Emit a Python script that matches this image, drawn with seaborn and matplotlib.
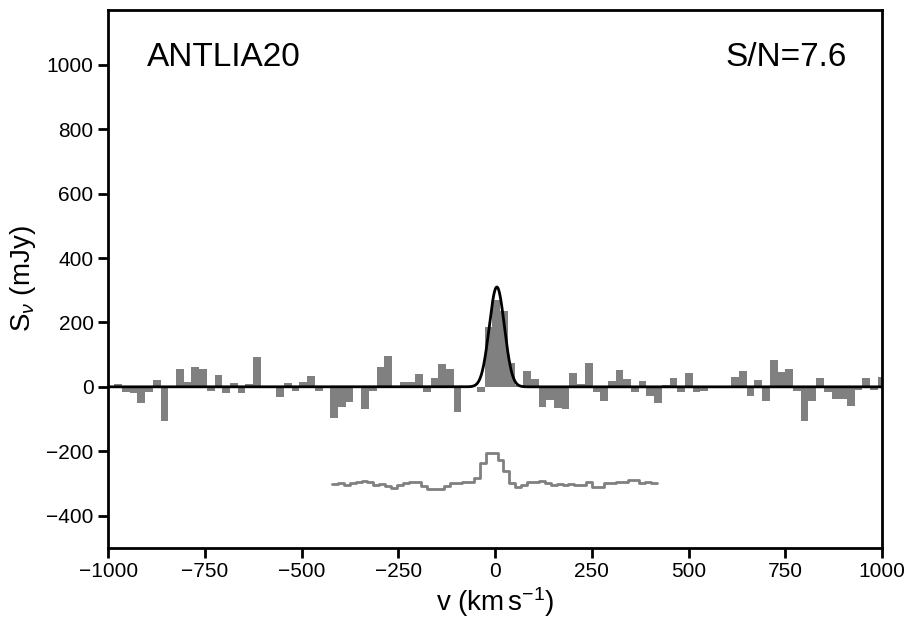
import numpy as np
import pandas as pd
import matplotlib
matplotlib.use("Agg")
import matplotlib.pyplot as plt
import seaborn as sns

# ---- data ----
chan_first = -974.0     # km/s, centre of first channel
chan_width = 19.93      # km/s
flux = [8, -15, -20, -50, -15, 20, -105, 0, 56, 14,
        62, 56, -12, 38, -18, 11, -18, 9, 92, 0,
        0, -30, 11, -12, 16, 35, -12, 4, -96, -63,
        -48, 0, -70, -12, 62, 95, 0, 14, 14, 41,
        -15, 29, 71, 56, -78, 0, 0, -17, 187, 270,
        234, 74, 5, 50, 23, -62, -40, -65, -70, 42,
        10, 75, -17, -43, 18, 52, 24, -16, 18, -27,
        -50, 5, 29, -15, 44, -15, -12, 0, 0, -5,
        30, 48, -27, 20, -43, 83, 45, 55, -12, -106,
        -43, 27, -15, -37, -37, -59, -9, 27, -9, 30]

# offset comparison profile (stepped grey line)
prof_start = -421.6
prof_width = 15.28
prof = [-302, -299, -305, -299, -296, -291, -294, -306, -303, -307,
        -315, -306, -299, -296, -295, -309, -316, -317, -317, -307,
        -300, -300, -294, -294, -283, -237, -204, -204, -227, -261,
        -299, -311, -304, -297, -295, -293, -299, -304, -302, -304,
        -301, -304, -304, -297, -310, -312, -300, -300, -296, -296,
        -288, -288, -300, -295, -298]

# Gaussian fit parameters
g_amp = 310.0
g_cen = 4.5
g_fwhm = 46.0

label = "ANTLIA20"
snr_text = "S/N=7.6"

# ---- build frames ----
vel = chan_first + chan_width * np.arange(len(flux))
df_bars = pd.DataFrame({"v": vel, "S": flux})

edges = prof_start + prof_width * np.arange(len(prof) + 1)
df_prof = pd.DataFrame({"v": edges, "S": prof + [prof[-1]]})

vfit = np.linspace(-1000, 1000, 4001)
sig = g_fwhm / 2.3548
df_fit = pd.DataFrame({"v": vfit, "S": g_amp * np.exp(-0.5 * ((vfit - g_cen) / sig) ** 2)})

# ---- plot ----
sns.set_style("ticks")
plt.rcParams["font.family"] = ["Liberation Sans", "DejaVu Sans"]
plt.rcParams["mathtext.fontset"] = "custom"
plt.rcParams["mathtext.rm"] = "Liberation Sans"
plt.rcParams["mathtext.it"] = "Liberation Sans:italic"
for k in ["text.color", "axes.labelcolor", "xtick.color", "ytick.color", "axes.edgecolor"]:
    plt.rcParams[k] = "black"

fig = plt.figure(figsize=(9.16, 6.29), dpi=100)
ax = fig.add_axes([0.118, 0.129, 0.845, 0.855])

sns.barplot(data=df_bars, x="v", y="S", native_scale=True, width=1.0,
            color="#808080", saturation=1, errorbar=None, linewidth=0, ax=ax)
sns.lineplot(data=df_prof, x="v", y="S", drawstyle="steps-post",
             color="#808080", linewidth=2, ax=ax)
sns.lineplot(data=df_fit, x="v", y="S", color="black", linewidth=2, ax=ax)

ax.set_xlim(-1000, 1000)
ax.set_ylim(-500, 1170)
ax.set_xticks([-1000, -750, -500, -250, 0, 250, 500, 750, 1000])
ax.set_yticks([-400, -200, 0, 200, 400, 600, 800, 1000])
ax.tick_params(axis="both", direction="out", length=7, width=2, labelsize=15, colors="black")
for s in ax.spines.values():
    s.set_linewidth(2)
    s.set_color("black")
    s.set_visible(True)

ax.set_xlabel(r"v (km$\,$s$^{-1}$)", fontsize=20, labelpad=3)
ax.set_ylabel(r"S$_{\nu}$ (mJy)", fontsize=20, labelpad=6)

ax.text(0.05, 0.896, label, transform=ax.transAxes, fontsize=24, ha="left", va="baseline")
ax.text(0.955, 0.896, snr_text, transform=ax.transAxes, fontsize=24, ha="right", va="baseline")

fig.savefig("out.png", dpi=100)
